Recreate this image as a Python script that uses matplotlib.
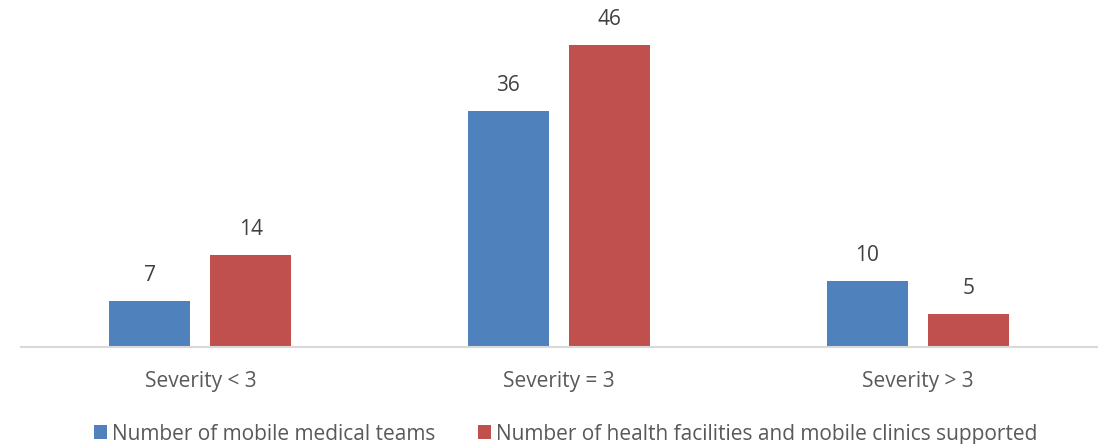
import matplotlib.pyplot as plt
import numpy as np

categories = ["Severity < 3", "Severity = 3", "Severity > 3"]
mobile_teams = [7, 36, 10]
facilities = [14, 46, 5]
series_names = ["Number of mobile medical teams",
                "Number of health facilities and mobile clinics supported"]

plt.rcParams['font.family'] = ['Open Sans', 'DejaVu Sans']

fig = plt.figure(figsize=(11.07, 4.44), dpi=100)
ax = fig.add_axes([21 / 1107, 97 / 444, 1076 / 1107, 328 / 444])

x = np.arange(len(categories))
w = 0.226
off = 0.141
b1 = ax.bar(x - off, mobile_teams, w, color="#4F81BD", label=series_names[0])
b2 = ax.bar(x + off, facilities, w, color="#C0504D", label=series_names[1])

for bars in (b1, b2):
    for rect in bars:
        ax.annotate(f"{rect.get_height():g}",
                    (rect.get_x() + rect.get_width() / 2, rect.get_height()),
                    xytext=(0, 11), textcoords="offset points",
                    ha="center", va="bottom", fontsize=15, color="#404040")

ax.set_xlim(-0.5, 2.5)
ax.set_ylim(0, 50)
ax.set_xticks(x)
ax.set_xticklabels(categories, fontsize=15, color="#595959")
ax.tick_params(axis="x", length=0, pad=17)
ax.set_yticks([])
for s in ("left", "right", "top"):
    ax.spines[s].set_visible(False)
ax.spines["bottom"].set_color("#D9D9D9")
ax.spines["bottom"].set_linewidth(1.5)

fig.legend(handles=[b1, b2], loc="center", bbox_to_anchor=(0.511, 10 / 444),
           ncol=2, frameon=False, fontsize=15, labelcolor="#595959",
           handlelength=0.65, handleheight=0.65, handletextpad=0.25,
           columnspacing=2.0)

fig.savefig("out.png", dpi=100)
